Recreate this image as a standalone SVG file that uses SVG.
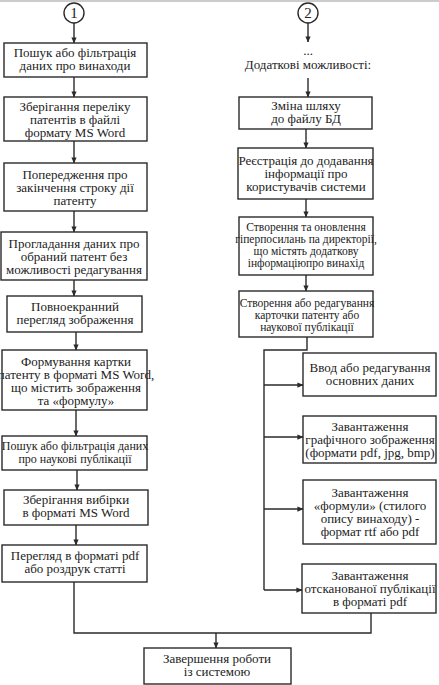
<svg xmlns="http://www.w3.org/2000/svg" width="439" height="685" viewBox="0 0 439 685">
<defs>
<marker id="a" viewBox="0 0 8 8" refX="7.5" refY="4" markerWidth="6" markerHeight="6" markerUnits="userSpaceOnUse" orient="auto">
<path d="M0,0.5 L8,4 L0,7.5 Z" fill="#2a2a2a"/>
</marker>
</defs>
<rect width="439" height="685" fill="#fff"/>
<line x1="0" y1="1" x2="439" y2="1" stroke="#bbb" stroke-width="1.5"/>

<g id="connectors" fill="none" stroke="#2a2a2a" stroke-width="1.4">
<path d="M74,23 V43" marker-end="url(#a)"/>
<path d="M74,77 V97" marker-end="url(#a)"/>
<path d="M74,141 V163" marker-end="url(#a)"/>
<path d="M74,211 V232" marker-end="url(#a)"/>
<path d="M74,280 V296" marker-end="url(#a)"/>
<path d="M76,332 V350" marker-end="url(#a)"/>
<path d="M76,410 V436" marker-end="url(#a)"/>
<path d="M77,470 V490" marker-end="url(#a)"/>
<path d="M76,525 V545" marker-end="url(#a)"/>
<path d="M74,582 V633 H371 V613"/>
<path d="M216,633 V648" marker-end="url(#a)"/>
<path d="M308,23 V42" marker-end="url(#a)"/>
<path d="M308,78 V97" marker-end="url(#a)"/>
<path d="M306,129 V148" marker-end="url(#a)"/>
<path d="M306,199 V217" marker-end="url(#a)"/>
<path d="M306,275 V291" marker-end="url(#a)"/>
<path d="M307,337 V350 H264 V590"/>
<path d="M264,385 H303" marker-end="url(#a)"/>
<path d="M264,437 H303" marker-end="url(#a)"/>
<path d="M264,509 H303" marker-end="url(#a)"/>
<path d="M264,590 H302" marker-end="url(#a)"/>
</g>

<g id="shapes" fill="#fff" stroke="#2a2a2a" stroke-width="1.4">
<circle cx="74" cy="13" r="10"/>
<circle cx="308" cy="13" r="10"/>
<rect x="4" y="43" width="143" height="34"/>
<rect x="4" y="97" width="143" height="44"/>
<rect x="4" y="163" width="143" height="48"/>
<rect x="1" y="232" width="146" height="48"/>
<rect x="7" y="296" width="135" height="36"/>
<rect x="2" y="350" width="145" height="60"/>
<rect x="2" y="436" width="145" height="34"/>
<rect x="4" y="490" width="144" height="35"/>
<rect x="2" y="545" width="145" height="37"/>
<rect x="144" y="648" width="147" height="36"/>
<rect x="239" y="97" width="133" height="32"/>
<rect x="238" y="148" width="135" height="51"/>
<rect x="239" y="217" width="134" height="58"/>
<rect x="239" y="291" width="134" height="46"/>
<rect x="303" y="353" width="133" height="43"/>
<rect x="303" y="416" width="133" height="47"/>
<rect x="303" y="480" width="133" height="64"/>
<rect x="302" y="564" width="134" height="49"/>
</g>

<g id="labels" font-family="Liberation Serif, serif" font-size="13" fill="#222" text-anchor="middle">
<g id="c1"><text x="74" y="18" font-family="Liberation Serif" font-size="15">1</text></g>
<g id="c2"><text x="308" y="18" font-family="Liberation Serif" font-size="15">2</text></g>
<g id="n1">
<text x="75" y="57" font-family="Liberation Serif">Пошук або фільтрація</text>
<text x="75" y="70" font-family="Liberation Serif">даних про винаходи</text></g>
<g id="n2">
<text x="75" y="111" font-family="Liberation Serif">Зберігання переліку</text>
<text x="75" y="124" font-family="Liberation Serif">патентів в файлі</text>
<text x="75" y="137" font-family="Liberation Serif">формату MS Word</text></g>
<g id="n3">
<text x="75" y="179" font-family="Liberation Serif">Попередження про</text>
<text x="75" y="192" font-family="Liberation Serif">закінчення строку дії</text>
<text x="75" y="205" font-family="Liberation Serif">патенту</text></g>
<g id="n4">
<text x="74" y="248" font-family="Liberation Serif">Прогладання даних про</text>
<text x="74" y="261" font-family="Liberation Serif">обраний патент без</text>
<text x="74" y="274" font-family="Liberation Serif">можливості редагування</text></g>
<g id="n5">
<text x="75" y="311" font-family="Liberation Serif">Повноекранний</text>
<text x="75" y="324" font-family="Liberation Serif">перегляд зображення</text></g>
<g id="n6">
<text x="76" y="366" font-family="Liberation Serif">Формування картки</text>
<text x="76" y="379" font-family="Liberation Serif">патенту в форматі MS Word,</text>
<text x="76" y="392" font-family="Liberation Serif">що містить зображення</text>
<text x="76" y="405" font-family="Liberation Serif">та «формулу»</text></g>
<g id="n7" font-size="12">
<text x="75" y="450" font-family="Liberation Serif">Пошук або фільтрація даних</text>
<text x="75" y="463" font-family="Liberation Serif">про наукові публікації</text></g>
<g id="n8">
<text x="76" y="504" font-family="Liberation Serif">Зберігання вибірки</text>
<text x="76" y="517" font-family="Liberation Serif">в форматі MS Word</text></g>
<g id="n9">
<text x="75" y="560" font-family="Liberation Serif">Перегляд в форматі pdf</text>
<text x="75" y="573" font-family="Liberation Serif">або роздрук статті</text></g>
<g id="n10">
<text x="217" y="663" font-family="Liberation Serif">Завершення роботи</text>
<text x="217" y="676" font-family="Liberation Serif">із системою</text></g>
<g id="lbl">
<text x="308" y="55" font-family="Liberation Serif">...</text>
<text x="308" y="69" font-family="Liberation Serif">Додаткові можливості:</text></g>
<g id="r1">
<text x="306" y="110" font-family="Liberation Serif">Зміна шляху</text>
<text x="306" y="123" font-family="Liberation Serif">до файлу БД</text></g>
<g id="r2">
<text x="306" y="165" font-family="Liberation Serif">Реєстрація до додавання</text>
<text x="306" y="178" font-family="Liberation Serif">інформації про</text>
<text x="306" y="191" font-family="Liberation Serif">користувачів системи</text></g>
<g id="r3" font-size="11.5">
<text x="306" y="231" font-family="Liberation Serif">Створення та оновлення</text>
<text x="306" y="243" font-family="Liberation Serif">гіперпосилань па директорії,</text>
<text x="306" y="255" font-family="Liberation Serif">що містять додаткову</text>
<text x="306" y="267" font-family="Liberation Serif">інформаціюпро винахід</text></g>
<g id="r4" font-size="11.5">
<text x="307" y="307" font-family="Liberation Serif">Створення або редагування</text>
<text x="307" y="319" font-family="Liberation Serif">карточки патенту або</text>
<text x="307" y="331" font-family="Liberation Serif">наукової публікації</text></g>
<g id="r5">
<text x="370" y="372" font-family="Liberation Serif">Ввод або редагування</text>
<text x="370" y="385" font-family="Liberation Serif">основних даних</text></g>
<g id="r6">
<text x="370" y="431" font-family="Liberation Serif">Завантаження</text>
<text x="370" y="444" font-family="Liberation Serif">графічного зображення</text>
<text x="370" y="457" font-family="Liberation Serif">(формати pdf, jpg, bmp)</text></g>
<g id="r7">
<text x="370" y="497" font-family="Liberation Serif">Завантаження</text>
<text x="370" y="510" font-family="Liberation Serif">«формули» (стилого</text>
<text x="370" y="523" font-family="Liberation Serif">опису винаходу) -</text>
<text x="370" y="536" font-family="Liberation Serif">формат rtf або pdf</text></g>
<g id="r8">
<text x="370" y="580" font-family="Liberation Serif">Завантаження</text>
<text x="370" y="593" font-family="Liberation Serif">отсканованої публікації</text>
<text x="370" y="606" font-family="Liberation Serif">в форматі pdf</text></g>
</g>
</svg>
